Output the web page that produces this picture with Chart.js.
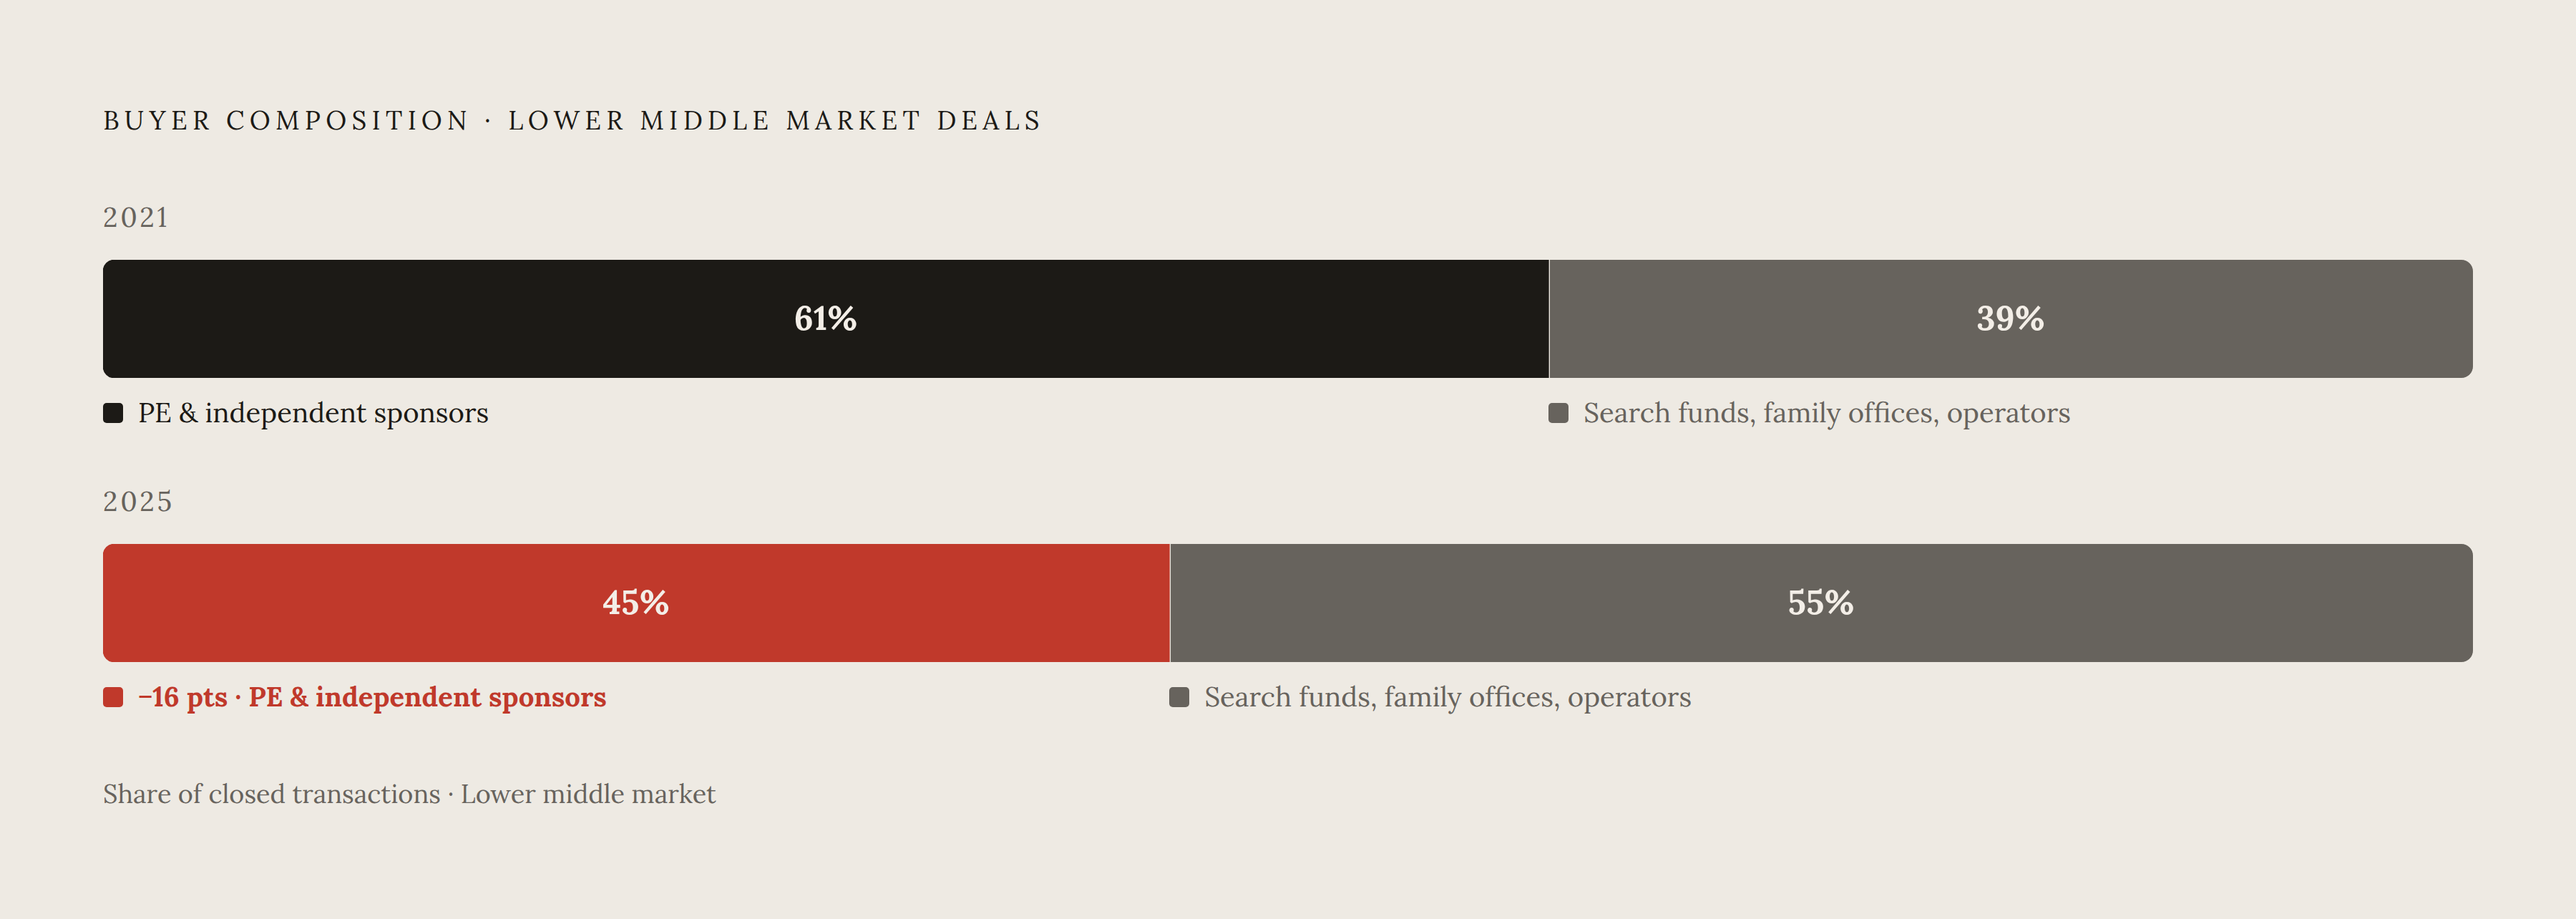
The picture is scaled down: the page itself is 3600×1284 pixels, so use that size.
<!DOCTYPE html>
<html>
<head>
<meta charset="utf-8">
<script src="https://cdn.jsdelivr.net/npm/chart.js@4.4.1/dist/chart.umd.min.js"></script>
<style>
  html, body { margin: 0; padding: 0; background: #eeeae3; }
  body { width: 3600px; height: 1284px; position: relative; overflow: hidden;
         font-family: Lora, "DejaVu Serif", serif; }
  .abs { position: absolute; left: 144px; white-space: nowrap; line-height: 60px; }
  .title { top: 138px; font-size: 36.5px; letter-spacing: 0.2em; color: #1c1a16; }
  .year { font-size: 38px; letter-spacing: 0.1em; color: #67635d; }
  .bar { position: absolute; left: 144px; width: 3312px; height: 165px; }
  .legend { position: absolute; left: 144px; width: 3312px; height: 60px; }
  .item { position: absolute; top: 0; line-height: 60px; font-size: 38.3px; color: #1c1a16; white-space: nowrap; }
  .item i { display: inline-block; width: 28px; height: 28px; border-radius: 5px;
            vertical-align: middle; margin-right: 21px; position: relative; top: -3px; }
  .item.muted { color: #67635d; }
  .item.hot { color: #c0392b; font-weight: bold; }
  .foot { top: 1079px; font-size: 36px; color: #67635d; }
</style>
</head>
<body>
<div class="abs title">BUYER COMPOSITION · LOWER MIDDLE MARKET DEALS</div>

<div class="abs year" style="top:273px">2021</div>
<div class="bar" style="top:363px"><canvas id="bar2021"></canvas></div>
<div class="legend" id="leg2021" style="top:546px"></div>

<div class="abs year" style="top:670px">2025</div>
<div class="bar" style="top:760px"><canvas id="bar2025"></canvas></div>
<div class="legend" id="leg2025" style="top:943px"></div>

<div class="abs foot">Share of closed transactions · Lower middle market</div>

<script>
// data
const years = ['2021', '2025'];
const peShare = [61, 45];
const otherShare = [39, 55];
const seriesNames = ['PE & independent sponsors', 'Search funds, family offices, operators'];

const DARK = '#1c1a16';
const GREY = '#67635d';
const RED = '#c0392b';
const R = 16;

// percent labels in the middle of each segment
const barLabels = {
    id: 'barLabels',
    afterDatasetsDraw(chart) {
        let ctx = chart.ctx;
        ctx.save();
        ctx.font = 'bold 47px Lora, "DejaVu Serif", serif';
        ctx.fillStyle = '#f3eee7';
        ctx.textAlign = 'center';
        ctx.textBaseline = 'middle';
        chart.data.datasets.forEach(function(ds, i) {
            chart.getDatasetMeta(i).data.forEach(function(bar, j) {
                let p = bar.getProps(['x', 'y', 'base'], true);
                ctx.fillText(ds.data[j] + '%', (p.x + p.base) / 2, p.y + 2);
            });
        });
        ctx.restore();
    }
};

function drawBar(canvasId, idx, mainColor) {
    let ctx = document.getElementById(canvasId).getContext('2d');
    return new Chart(ctx, {
        type: 'bar',
        data: {
            labels: [years[idx]],
            datasets: [{
                label: seriesNames[0],
                data: [peShare[idx]],
                backgroundColor: mainColor,
                borderSkipped: false,
                borderWidth: 0,
                borderRadius: {topLeft: R, bottomLeft: R, topRight: 0, bottomRight: 0},
            }, {
                label: seriesNames[1],
                data: [otherShare[idx]],
                backgroundColor: GREY,
                borderColor: 'rgba(238,234,227,0.55)',
                borderSkipped: false,
                borderWidth: {left: 2, top: 0, right: 0, bottom: 0},
                borderRadius: {topLeft: 0, bottomLeft: 0, topRight: R, bottomRight: R},
            }]
        },
        options: {
            indexAxis: 'y',
            responsive: true,
            maintainAspectRatio: false,
            animation: false,
            layout: {padding: 0},
            datasets: {bar: {barPercentage: 1, categoryPercentage: 1}},
            scales: {
                x: {stacked: true, min: 0, max: 100, display: false},
                y: {stacked: true, display: false}
            },
            plugins: {legend: {display: false}, tooltip: {enabled: false}}
        },
        plugins: [barLabels]
    });
}

function drawLegend(chart, legendId, idx, first) {
    let box = document.getElementById(legendId);
    let split = chart.scales.x.getPixelForValue(peShare[idx]);
    box.innerHTML =
        '<div class="item ' + first.cls + '" style="left:0"><i style="background:' + first.color + '"></i>' + first.text + '</div>' +
        '<div class="item muted" style="left:' + split + 'px"><i style="background:' + GREY + '"></i>' + seriesNames[1] + '</div>';
}

let c21 = drawBar('bar2021', 0, DARK);
let c25 = drawBar('bar2025', 1, RED);

let change = peShare[1] - peShare[0];
drawLegend(c21, 'leg2021', 0, {cls: '', color: DARK, text: seriesNames[0]});
drawLegend(c25, 'leg2025', 1, {cls: 'hot', color: RED,
    text: (change < 0 ? '\u2212' : '+') + Math.abs(change) + ' pts \u00b7 ' + seriesNames[0]});
</script>
</body>
</html>
